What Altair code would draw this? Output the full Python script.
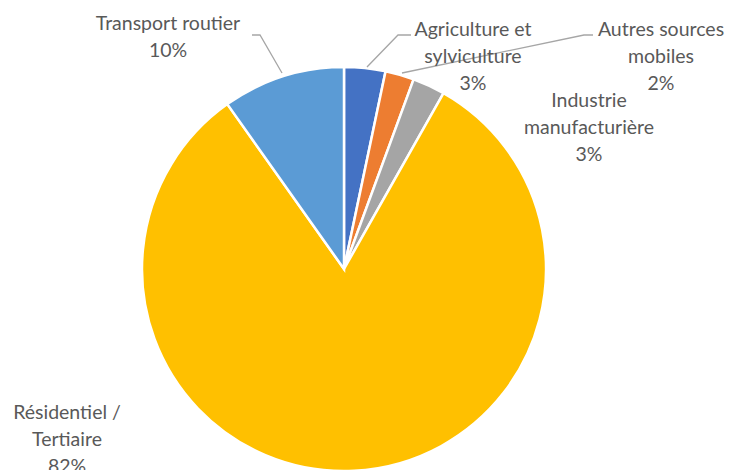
import altair as alt
import pandas as pd

categories = ["Agriculture et\nsylviculture", "Autres sources\nmobiles", "Industrie\nmanufacturière",
              "Résidentiel /\nTertiaire", "Transport routier"]
values = [3.3, 2.3, 2.6, 82.0, 9.8]
colors = ["#4472C4", "#ED7D31", "#A5A5A5", "#FFC000", "#5B9BD5"]

# label layout (pixel anchors: centre x, first-line centre y)
label_pos = [(473, 30), (661, 30), (589, 101), (67, 413), (168, 24)]
leaders = {
    0: [(367, 67), (398, 35), (411, 35)],
    1: [(402, 73), (584, 35), (593, 35)],
    4: [(282, 73), (260, 35), (252, 35)],
}

CX, CY, R = 344, 269, 202

pie_df = pd.DataFrame({"cat": categories, "val": values, "idx": range(len(values))})

rows = []
for i, (c, v) in enumerate(zip(categories, values)):
    lines = c.split("\n") + [f"{round(v)}%"]
    x0, y0 = label_pos[i]
    for j, t in enumerate(lines):
        rows.append({"t": t, "x": x0, "y": y0 + j * 27})
text_df = pd.DataFrame(rows)

lrows = []
for k, pts in leaders.items():
    for o, (x, y) in enumerate(pts):
        lrows.append({"g": k, "o": o, "x": x, "y": y})
line_df = pd.DataFrame(lrows)

pie = alt.Chart(pie_df).mark_arc(outerRadius=R, stroke="white", strokeWidth=2.5).encode(
    theta=alt.Theta("val:Q", stack=True),
    order=alt.Order("idx:Q"),
    color=alt.Color("cat:N", scale=alt.Scale(domain=categories, range=colors), legend=None),
    x=alt.value(CX), y=alt.value(CY),
)

lines = alt.Chart(line_df).mark_line(color="#A6A6A6", strokeWidth=1.3).encode(
    x=alt.X("x:Q", scale=None, axis=None),
    y=alt.Y("y:Q", scale=None, axis=None),
    detail="g:N",
    order="o:Q",
)

texts = alt.Chart(text_df).mark_text(font="Lato", fontSize=19.5, color="#595959",
                                     align="center", baseline="middle").encode(
    x=alt.X("x:Q", scale=None, axis=None),
    y=alt.Y("y:Q", scale=None, axis=None),
    text="t:N",
)

chart = alt.layer(pie, lines, texts).resolve_scale(color="independent").properties(
    width=731, height=470, padding=0, autosize=alt.AutoSizeParams(type="none"),
).configure_view(stroke=None)

chart.save("out.html", embed_options={"renderer": "svg", "actions": False})
